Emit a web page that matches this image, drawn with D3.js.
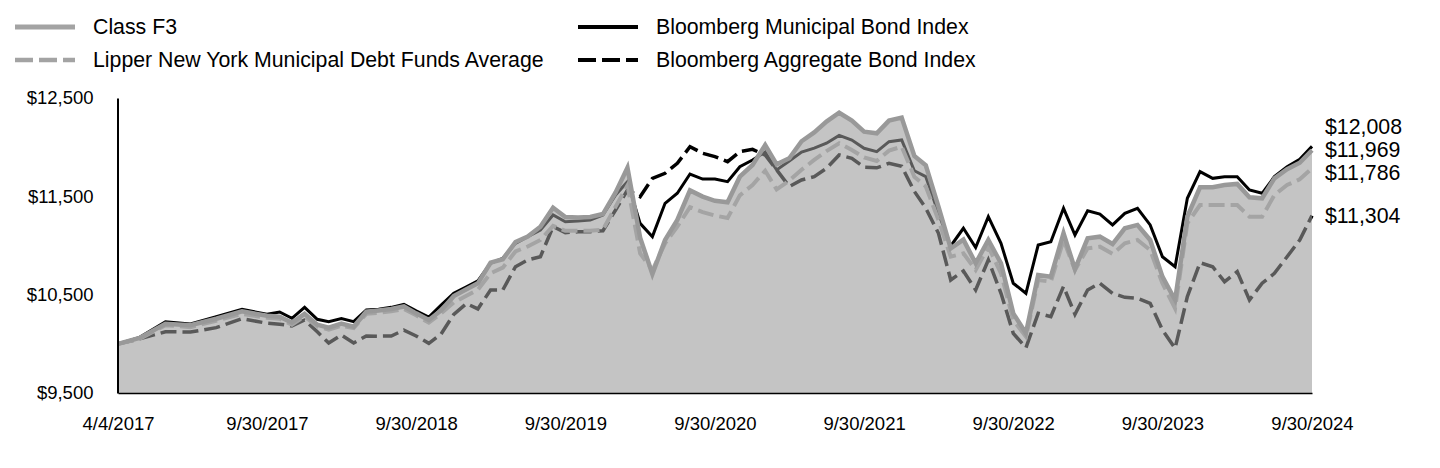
<!DOCTYPE html>
<html>
<head>
<meta charset="utf-8">
<script src="https://cdn.jsdelivr.net/npm/d3@7"></script>
<style>
  body { margin: 0; background: #ffffff; }
  svg { display: block; font-family: "Liberation Sans", Arial, sans-serif; }
</style>
</head>
<body>
<div id="chart"></div>
<script>
// Growth of $10,000 (one per month-end)
const classF3 = [
  10000, 10060, 10205, 10190, 10255, 10330, 10285, 10275, 10215, 10305,
  10195, 10165, 10205, 10175, 10327, 10340, 10355, 10380, 10310, 10242,
  10340, 10485, 10555, 10615, 10825, 10860, 11035, 11090, 11190, 11385,
  11290, 11285, 11290, 11320, 11540, 11790, 11080, 10710, 11056, 11260,
  11560, 11497, 11455, 11440, 11700, 11819, 12022, 11825, 11887, 12060,
  12150, 12260, 12350, 12270, 12158, 12141, 12270, 12300, 11910, 11815,
  11395, 10970, 11060, 10819, 11056, 10819, 10310, 10107, 10700, 10683,
  11124, 10760, 11073, 11090, 11015, 11175, 11209, 11056, 10683, 10446,
  11293, 11592, 11592, 11615, 11626, 11490, 11480, 11683, 11775, 11842,
  11969
];
const lipper = [
  10000, 10050, 10190, 10170, 10235, 10305, 10265, 10255, 10195, 10280,
  10175, 10145, 10185, 10160, 10305, 10315, 10330, 10355, 10290, 10215,
  10310, 10420, 10490, 10550, 10717, 10775, 10940, 10990, 11056, 11200,
  11150, 11150, 11150, 11160, 11395, 11610, 10920, 10751, 11022, 11192,
  11390, 11340, 11305, 11280, 11510, 11615, 11760, 11570, 11660, 11770,
  11870, 11960, 12040, 11971, 11895, 11860, 11965, 12005, 11700, 11600,
  11260, 10886, 10920, 10751, 10988, 10717, 10242, 10073, 10649, 10632,
  11056, 10751, 10972, 10988, 10914, 11022, 11056, 10954, 10616, 10361,
  11226, 11412, 11412, 11412, 11412, 11293, 11293, 11514, 11615, 11673,
  11786
];
const muni = [
  10000, 10066, 10225, 10202, 10276, 10351, 10300, 10324, 10260, 10371,
  10250, 10225, 10256, 10225, 10344, 10351, 10371, 10402, 10335, 10273,
  10395, 10514, 10580, 10640, 10819, 10870, 11022, 11090, 11158, 11310,
  11242, 11250, 11260, 11310, 11514, 11649, 11225, 11090, 11429, 11531,
  11727, 11676, 11676, 11649, 11801, 11870, 11950, 11768, 11860, 11950,
  11990, 12040, 12120, 12073, 11989, 11955, 12056, 12073, 11760, 11700,
  11327, 10995, 11175, 10980, 11293, 11022, 10616, 10514, 11005, 11039,
  11378, 11107, 11354, 11320, 11209, 11327, 11378, 11209, 10886, 10784,
  11480, 11751, 11683, 11700, 11700, 11565, 11531, 11700, 11801, 11876,
  12008
];
const agg = [
  10000, 10050, 10123, 10120, 10165, 10255, 10210, 10200, 10182, 10242,
  10123, 10008, 10090, 10008, 10080, 10078, 10080, 10140, 10080, 10005,
  10100, 10300, 10410, 10355, 10548, 10548, 10784, 10853, 10886, 11192,
  11131, 11140, 11141, 11150, 11361, 11564, 11497, 11683, 11734, 11836,
  12005, 11938, 11904, 11853, 11955, 11978, 11920, 11770, 11600, 11666,
  11700, 11785, 11921, 11887, 11795, 11790, 11836, 11805, 11550, 11380,
  11124, 10649, 10740, 10548, 10853, 10514, 10107, 9960, 10310, 10276,
  10584, 10300, 10548, 10616, 10514, 10473, 10463, 10412, 10141, 9955,
  10480, 10825, 10784, 10632, 10734, 10446, 10616, 10717, 10886, 11056,
  11304
];

const tickLabels = ["4/4/2017", "9/30/2017", "9/30/2018", "9/30/2019", "9/30/2020",
  "9/30/2021", "9/30/2022", "9/30/2023", "9/30/2024"];
const yTicks = [9500, 10500, 11500, 12500];

const seriesNames = ["Class F3", "Lipper New York Municipal Debt Funds Average",
  "Bloomberg Municipal Bond Index", "Bloomberg Aggregate Bond Index"];

const width = 1440;
const height = 468;

const parse = d3.timeParse("%m/%d/%Y");
// inception date, then every month-end through 9/30/2024
const dates = [parse("4/4/2017")].concat(
  d3.timeMonth.range(new Date(2017, 4, 1), new Date(2024, 9, 2)).map(d => d3.timeDay.offset(d, -1))
);

const svg = d3.select("#chart")
  .append("svg")
  .attr("width", width)
  .attr("height", height);

// the axis labels are evenly spaced, so the first half-year gets a full slot
const x = d3.scaleTime()
  .domain([parse("4/4/2017"), parse("9/30/2017"), parse("9/30/2024")])
  .range([118, 267, 1312]);

const y = d3.scaleLinear()
  .domain([9500, 12500])
  .range([393, 98]);

const series = [
  { name: seriesNames[2], values: muni, color: "#000000", width: 3, dash: null },
  { name: seriesNames[3], values: agg, color: "#000000", width: 3.5, dash: "16,6" },
  { name: seriesNames[1], values: lipper, color: "#b3b3b3", width: 4, dash: "16,6" },
  { name: seriesNames[0], values: classF3, color: "#999999", width: 4.5, dash: null }
];

const line = d3.line()
  .x((d, i) => x(dates[i]))
  .y(d => y(d));

series.forEach(s => {
  svg.append("path")
    .datum(s.values)
    .attr("fill", "none")
    .attr("stroke", s.color)
    .attr("stroke-width", s.width)
    .attr("stroke-dasharray", s.dash)
    .attr("stroke-linejoin", "miter")
    .attr("d", line);
});

// Fund area drawn over the lines, semi-transparent
const area = d3.area()
  .x((d, i) => x(dates[i]))
  .y0(y(9500))
  .y1(d => y(d));

svg.append("path")
  .datum(classF3)
  .attr("fill", "#999999")
  .attr("fill-opacity", 0.58)
  .attr("d", area);

// Axes
const yAxis = svg.append("g")
  .attr("transform", "translate(117.5,0)")
  .call(d3.axisLeft(y).tickValues(yTicks).tickSize(0).tickPadding(24)
    .tickFormat(d => "$" + d3.format(",")(d)));
yAxis.select(".domain").attr("stroke", "#000").attr("stroke-width", 2);
yAxis.selectAll("text").style("font-size", "18.5px").attr("fill", "#000");

const xAxis = svg.append("g")
  .attr("transform", "translate(0,393)")
  .call(d3.axisBottom(x).tickValues(tickLabels.map(parse)).tickSize(0).tickPadding(24)
    .tickFormat((d, i) => tickLabels[i]));
xAxis.select(".domain").attr("stroke", "#000").attr("stroke-width", 1.5);
xAxis.selectAll("text").style("font-size", "18.5px").attr("fill", "#000");

// End-value labels, pushed apart around the fund's label
const ends = [
  { v: muni[muni.length - 1] },
  { v: classF3[classF3.length - 1], anchor: true },
  { v: lipper[lipper.length - 1] },
  { v: agg[agg.length - 1] }
].map(e => Object.assign(e, { y: y(e.v) }))
  .sort((a, b) => a.y - b.y);

const gap = 23;
const a = ends.findIndex(e => e.anchor);
ends[a].pos = ends[a].y - 0.8;
for (let i = a - 1; i >= 0; i--) ends[i].pos = Math.min(ends[i].y, ends[i + 1].pos - gap);
for (let i = a + 1; i < ends.length; i++) ends[i].pos = Math.max(ends[i].y, ends[i - 1].pos + gap);

svg.selectAll("text.end")
  .data(ends)
  .enter()
  .append("text")
  .attr("class", "end")
  .attr("x", 1325)
  .attr("y", d => d.pos)
  .attr("dy", "0.35em")
  .style("font-size", "21.3px")
  .attr("fill", "#000")
  .text(d => "$" + d3.format(",")(d.v));

// Legend
const legend = [
  { name: seriesNames[0], color: "#a3a3a3", width: 5, dash: null, lx: 15, ly: 27 },
  { name: seriesNames[1], color: "#a3a3a3", width: 4.5, dash: "18,6", lx: 15, ly: 60 },
  { name: seriesNames[2], color: "#000000", width: 4, dash: null, lx: 578, ly: 27 },
  { name: seriesNames[3], color: "#000000", width: 4, dash: "18,6", lx: 578, ly: 60 }
];

legend.forEach(l => {
  svg.append("line")
    .attr("x1", l.lx)
    .attr("x2", l.lx + 60)
    .attr("y1", l.ly)
    .attr("y2", l.ly)
    .attr("stroke", l.color)
    .attr("stroke-width", l.width)
    .attr("stroke-dasharray", l.dash);

  svg.append("text")
    .attr("x", l.lx + 78)
    .attr("y", l.ly)
    .attr("dy", "0.35em")
    .style("font-size", "21.3px")
    .attr("fill", "#000")
    .text(l.name);
});
</script>
</body>
</html>
